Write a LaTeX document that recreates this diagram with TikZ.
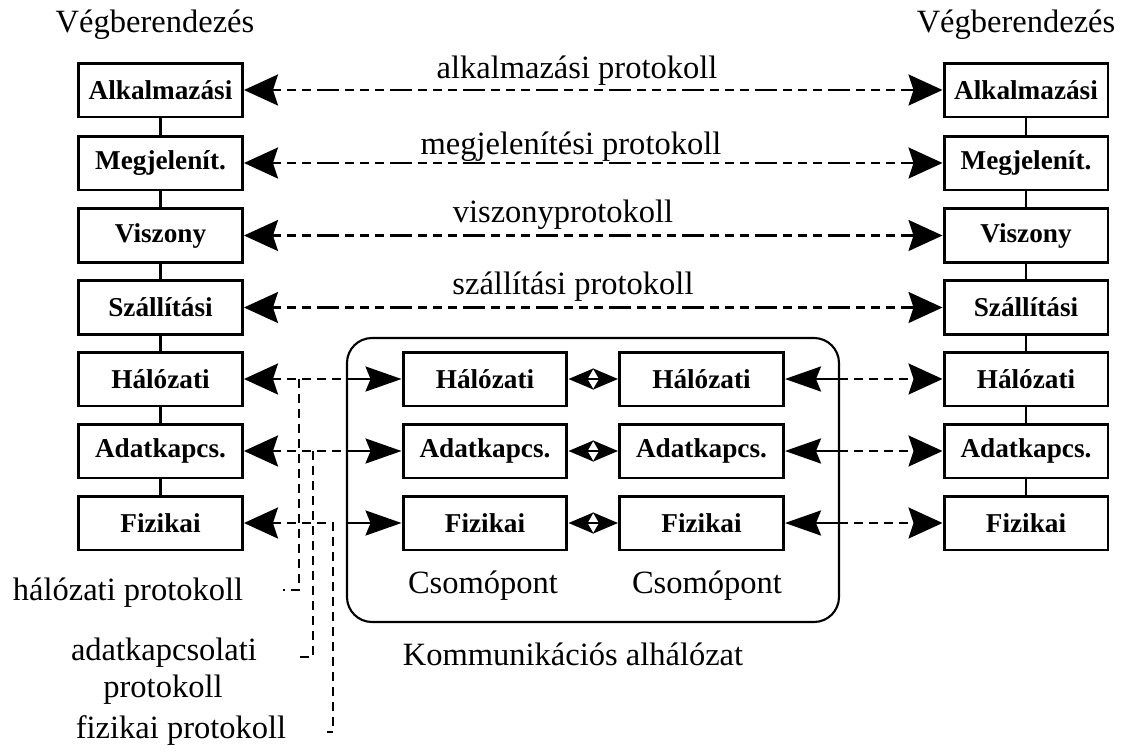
\documentclass[tikz,border=0pt]{standalone}
\usepackage{fontspec}
\setmainfont{Liberation Serif}
\usetikzlibrary{arrows.meta}
\begin{document}
\begin{tikzpicture}[x=0.02cm,y=-0.02cm,
  BigTip/.tip={Stealth[length=0.68cm,width=0.62cm,inset=0.1cm]},
  MidTip/.tip={Stealth[length=0.72cm,width=0.5cm,inset=0.1cm]},
  SmallTip/.tip={Stealth[length=0.5cm,width=0.42cm,inset=0.12cm]},
  layer/.style={draw,line width=1.7pt,minimum width=3.28cm,minimum height=1.08cm,inner sep=0pt,
    font=\fontsize{15.5}{18}\selectfont\bfseries},
  lbl/.style={font=\fontsize{18.5}{22}\selectfont,inner sep=0pt},
  link/.style={line width=1.5pt},
  proto/.style={line width=1.3pt,dash pattern=on 0.18cm off 0.12cm on 0.18cm off 0.12cm on 0.18cm off 0.12cm on 0.44cm off 0.12cm},
  protob/.style={line width=1.3pt,dash pattern=on 0.18cm off 0.12cm}
]
\fill[white] (0,0) rectangle (1123,751);
\useasboundingbox (0,0) rectangle (1123,751);

% subnetwork frame
\draw[line width=1.2pt,rounded corners=0.5cm] (347,338) rectangle (839,622);

% left end system
\node[layer] (L1) at (160.5,90) {Alkalmazási};
\node[layer] (L2) at (160.5,163) {Megjelenít.};
\node[layer] (L3) at (160.5,235.5) {Viszony};
\node[layer] (L4) at (160.5,307.5) {Szállítási};
\node[layer] (L5) at (160.5,379) {Hálózati};
\node[layer] (L6) at (160.5,451) {Adatkapcs.};
\node[layer] (L7) at (160.5,523) {Fizikai};

% right end system
\node[layer] (R1) at (1026,90) {Alkalmazási};
\node[layer] (R2) at (1026,163) {Megjelenít.};
\node[layer] (R3) at (1026,235.5) {Viszony};
\node[layer] (R4) at (1026,307.5) {Szállítási};
\node[layer] (R5) at (1026,379) {Hálózati};
\node[layer] (R6) at (1026,451) {Adatkapcs.};
\node[layer] (R7) at (1026,523) {Fizikai};

% nodes of subnetwork
\node[layer] (A5) at (485,379) {Hálózati};
\node[layer] (A6) at (485,451) {Adatkapcs.};
\node[layer] (A7) at (485,523) {Fizikai};
\node[layer] (B5) at (701.5,379) {Hálózati};
\node[layer] (B6) at (701.5,451) {Adatkapcs.};
\node[layer] (B7) at (701.5,523) {Fizikai};

% vertical stack links
\foreach \a/\b in {1/2,2/3,3/4,4/5,5/6,6/7}{
  \draw[link] (L\a.south) -- (L\b.north);
  \draw[link] (R\a.south) -- (R\b.north);
}

% peer protocols (upper layers)
\foreach \i in {1,2,3,4}{
  \draw[proto,BigTip-BigTip] (L\i.east) -- (R\i.west);
}

% frame crossing points
\coordinate (e5l) at (347,379);
\coordinate (e6l) at (347,451);
\coordinate (e7l) at (347,523);
\coordinate (e5r) at (839,379);
\coordinate (e6r) at (839,451);
\coordinate (e7r) at (839,523);
\coordinate (m5) at (593,379);
\coordinate (m6) at (593,451);
\coordinate (m7) at (593,523);

% lower layers
\draw[protob,BigTip-] (L5.east) -- (e5l);
\draw[protob,BigTip-] (L6.east) -- (e6l);
\coordinate (b3t) at (333,523);
\coordinate (b3b) at (333,732);
\coordinate (b3e) at (327,732);
\draw[protob,BigTip-] (L7.east) -- (b3t) -- (b3b) -- (b3e);

\foreach \i in {5,6,7}{
  \draw[link,-MidTip] (e\i l) -- (A\i.west);
  \draw[link,-SmallTip] (m\i) -- (A\i.east);
  \draw[link,-SmallTip] (m\i) -- (B\i.west);
  \draw[link,MidTip-] (B\i.east) -- (e\i r);
  \draw[protob,-BigTip] (e\i r) -- (R\i.west);
}

% brackets to protocol labels
\coordinate (b1t) at (299,379);
\coordinate (b1e) at (283,590);
\coordinate (b2t) at (313,451);
\coordinate (b2e) at (297,657);
\draw[protob] (b1t) |- (b1e);
\draw[protob] (b2t) |- (b2e);

% labels
\node[lbl,anchor=base] (vl) at (155,32) {Végberendezés};
\node[lbl,anchor=base] (vr) at (1016,32) {Végberendezés};
\node[lbl,anchor=base] (p1) at (577,78) {alkalmazási protokoll};
\node[lbl,anchor=base] (p2) at (571,154) {megjelenítési protokoll};
\node[lbl,anchor=base] (p3) at (563,222) {viszonyprotokoll};
\node[lbl,anchor=base] (p4) at (573,294) {szállítási protokoll};
\node[lbl,anchor=base] (c1) at (483,593) {Csomópont};
\node[lbl,anchor=base] (c2) at (707,593) {Csomópont};
\node[lbl,anchor=base] (kom) at (573,665) {Kommunikációs alhálózat};
\node[lbl,anchor=base] (hp) at (128,600) {hálózati protokoll};
\node[lbl,anchor=base] (ap1) at (164,660) {adatkapcsolati};
\node[lbl,anchor=base] (ap2) at (163,697) {protokoll};
\node[lbl,anchor=base] (fp) at (181,738) {fizikai protokoll};
\end{tikzpicture}
\end{document}
